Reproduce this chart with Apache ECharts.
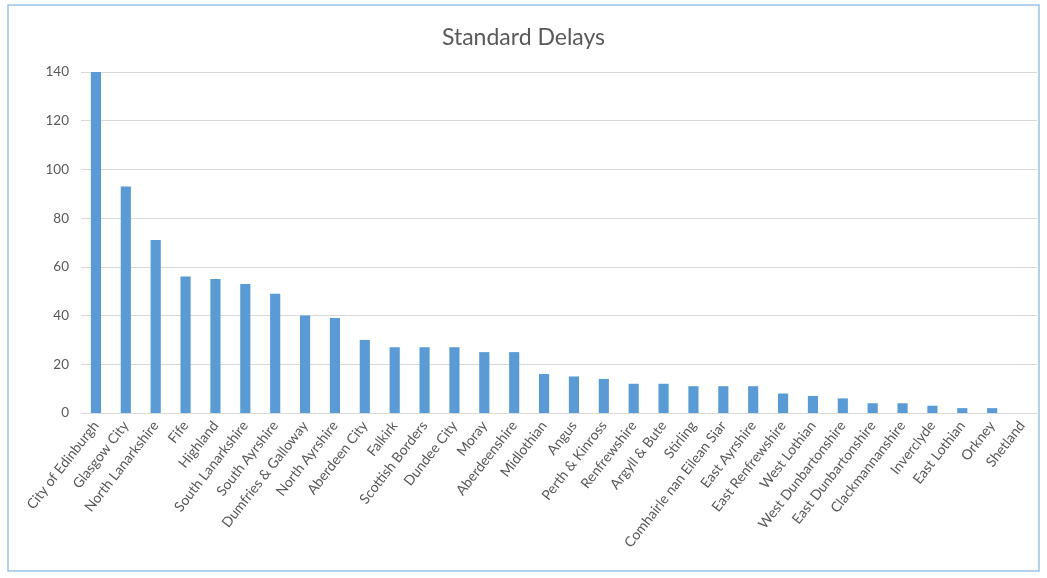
<!DOCTYPE html>
<html><head><meta charset="utf-8">
<script src="https://cdn.jsdelivr.net/npm/echarts@6/dist/echarts.min.js"></script>
<style>html,body{margin:0;padding:0;background:#fff}#c{width:1047px;height:578px}</style>
</head><body><div id="c"></div>
<script>
const categories = ["City of Edinburgh","Glasgow City","North Lanarkshire","Fife","Highland","South Lanarkshire","South Ayrshire","Dumfries & Galloway","North Ayrshire","Aberdeen City","Falkirk","Scottish Borders","Dundee City","Moray","Aberdeenshire","Midlothian","Angus","Perth & Kinross","Renfrewshire","Argyll & Bute","Stirling","Comhairle nan Eilean Siar","East Ayrshire","East Renfrewshire","West Lothian","West Dunbartonshire","East Dunbartonshire","Clackmannanshire","Inverclyde","East Lothian","Orkney","Shetland"];
const delays = [140,93,71,56,55,53,49,40,39,30,27,27,27,25,25,16,15,14,12,12,11,11,11,8,7,6,4,4,3,2,2,0];
const yTicks = [0,20,40,60,80,100,120,140];

const chart = echarts.init(document.getElementById('c'));
chart.setOption({
  backgroundColor: '#ffffff',
  animation: false,
  title: {
    text: 'Standard Delays', left: 'center', top: 21,
    textStyle: {fontFamily: 'Lato, "Open Sans", sans-serif', fontSize: 23, fontWeight: 'normal', color: '#595959'}
  },
  graphic: [{
    type: 'rect', shape: {x: 8, y: 5, width: 1031, height: 566},
    style: {fill: 'none', stroke: '#9dc3e6', lineWidth: 1.5}, silent: true
  }],
  grid: {left: 81, right: 10, top: 72, bottom: 165},
  xAxis: {
    type: 'category', data: categories,
    axisLine: {lineStyle: {color: '#d9d9d9'}},
    axisTick: {show: false},
    axisLabel: {rotate: 52, interval: 0, color: '#595959', fontSize: 14, fontFamily: 'Lato, "Open Sans", sans-serif', margin: 10}
  },
  yAxis: {
    type: 'value', min: yTicks[0], max: yTicks[yTicks.length-1], interval: 20,
    axisLine: {show: false}, axisTick: {show: false},
    splitLine: {lineStyle: {color: '#d9d9d9'}},
    axisLabel: {color: '#595959', fontSize: 13.5, fontFamily: 'Lato, "Open Sans", sans-serif', margin: 12}
  },
  series: [{
    type: 'bar', data: delays, barWidth: '34%',
    itemStyle: {color: '#5b9bd5'}
  }]
});
</script></body></html>
